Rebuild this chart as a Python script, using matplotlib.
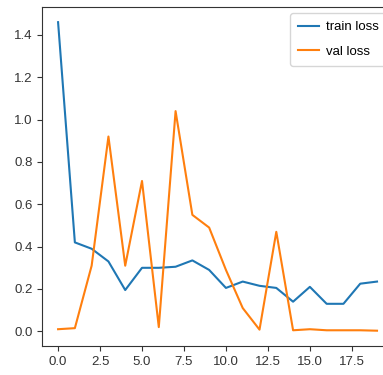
import numpy as np
import matplotlib.pyplot as plt

epochs = np.arange(20)
train_loss = [1.46, 0.42, 0.39, 0.33, 0.195, 0.30, 0.30, 0.305, 0.335, 0.29,
              0.205, 0.235, 0.215, 0.205, 0.14, 0.21, 0.13, 0.13, 0.225, 0.235]
val_loss = [0.01, 0.015, 0.31, 0.92, 0.31, 0.71, 0.02, 1.04, 0.55, 0.49,
            0.29, 0.11, 0.008, 0.47, 0.005, 0.01, 0.005, 0.005, 0.005, 0.003]
xticks = [0.0, 2.5, 5.0, 7.5, 10.0, 12.5, 15.0, 17.5]

plt.rcParams['font.family'] = ['Liberation Sans', 'DejaVu Sans']

fig = plt.figure(figsize=(3.83, 3.75), dpi=100)
ax = fig.add_axes([0.110, 0.077, 0.916, 0.905])
ax.plot(epochs, train_loss, label='train loss')
ax.plot(epochs, val_loss, label='val loss')
ax.set_xticks(xticks)
ax.legend(loc='upper right', fontsize=9.5, handlelength=1.6,
          labelspacing=0.9, borderpad=0.6, handletextpad=0.5)
ax.tick_params(labelsize=9.5, colors='#333333')
for s in ax.spines.values():
    s.set_color('#333333')

fig.savefig('out.png', dpi=100)
